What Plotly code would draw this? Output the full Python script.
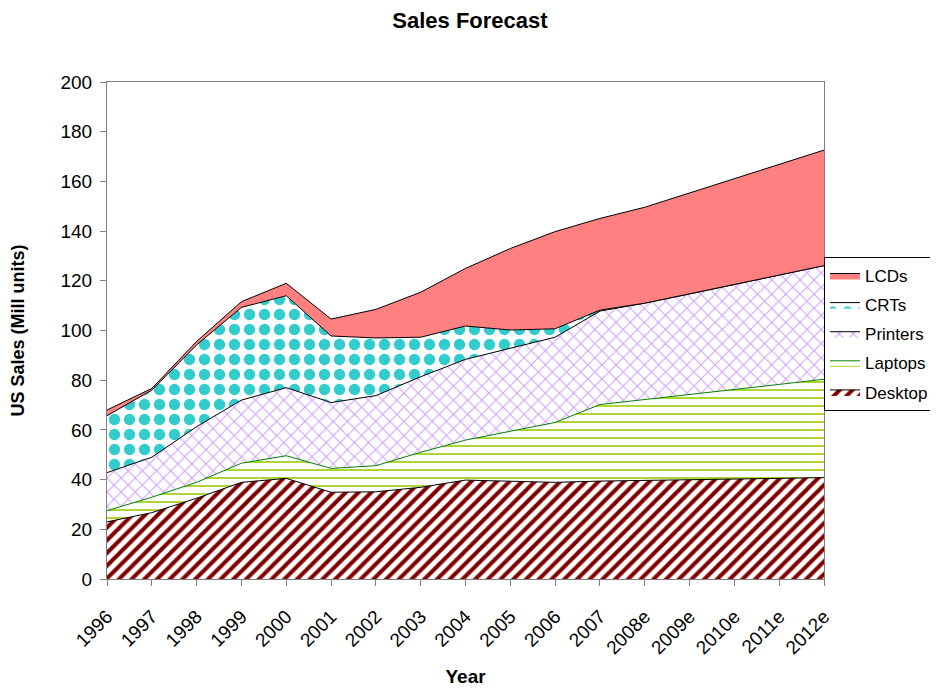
import plotly.graph_objects as go

# Kategorien (x-Achse)
years = ["1996", "1997", "1998", "1999", "2000", "2001", "2002", "2003", "2004",
         "2005", "2006", "2007", "2008e", "2009e", "2010e", "2011e", "2012e"]

# Werte je Serie (Mill. Einheiten, gestapelt von unten nach oben)
desktop = [23.0, 26.7, 32.5, 38.9, 40.5, 34.9, 35.1, 36.9, 39.8, 39.4, 38.9, 39.4, 39.6, 39.8, 40.2, 40.5, 40.8]
laptops = [4.5, 6.2, 6.4, 7.7, 9.1, 9.6, 10.5, 14.1, 16.1, 20.2, 24.1, 30.8, 32.7, 34.5, 36.1, 37.8, 39.6]
printers = [15.3, 16.1, 22.4, 25.4, 27.4, 26.5, 28.2, 30.4, 32.5, 33.2, 34.3, 37.6, 38.7, 40.4, 42.2, 44.0, 45.7]
crts = [22.9, 27.0, 32.9, 37.3, 37.0, 26.8, 23.2, 15.9, 13.4, 7.4, 3.4, 0.4, 0, 0, 0, 0, 0]
lcds = [2.3, 0.7, 1.4, 2.3, 5.0, 6.8, 11.5, 18.1, 23.2, 32.8, 39.1, 36.9, 38.6, 40.6, 42.6, 44.5, 46.5]

FONT = "Liberation Sans, Arial, sans-serif"

# (Name, Werte, Linienfarbe, Muster-Form, Musterfarbe, Mustergröße, Solidity)
series = [
    ("Desktop", desktop, "black", "/", "#800000", 9, 0.45),
    ("Laptops", laptops, "#008000", "-", "#99CC00", 8, 0.2),
    ("Printers", printers, "black", "x", "#CC99FF", 10, 0.18),
    ("CRTs", crts, "black", ".", "#33CCCC", 15, 0.45),
]

fig = go.Figure()
for i, (name, vals, lc, shape, fg, size, sol) in enumerate(series):
    fig.add_trace(go.Scatter(
        x=years, y=vals, name=name, legendgroup=name, legendrank=5 - i,
        mode="lines", stackgroup="one",
        line=dict(color=lc, width=1),
        fillcolor="white",
        fillpattern=dict(shape=shape, fgcolor=fg, bgcolor="white",
                         size=size, solidity=sol, fillmode="replace"),
    ))

fig.add_trace(go.Scatter(
    x=years, y=lcds, name="LCDs", legendgroup="LCDs", legendrank=1,
    mode="lines", stackgroup="one",
    line=dict(color="black", width=1), fillcolor="#FF8080",
))

axis_line = dict(showline=True, linecolor="#808080", linewidth=1, mirror=True,
                 ticks="outside", ticklen=6, tickcolor="#808080", showgrid=False,
                 zeroline=False, automargin=False)

fig.update_layout(
    width=938, height=691,
    margin=dict(l=99, r=121, t=74, b=120),
    paper_bgcolor="white", plot_bgcolor="white",
    font=dict(family=FONT, size=19, color="black"),
    title=dict(text="<b>Sales Forecast</b>", x=0.4925, xref="container", xanchor="center",
               y=0.982, yanchor="middle", font=dict(size=22), automargin=False),
    xaxis=dict(type="category", range=[0, 16], tickangle=-45, ticklabelstandoff=12,
               title=dict(text="<b>Year</b>", font=dict(size=19), standoff=12),
               **axis_line),
    yaxis=dict(range=[0, 200], dtick=20, ticklabelstandoff=4,
               title=dict(text="<b>US Sales (Mill units)</b>", font=dict(size=18), standoff=32),
               **axis_line),
    legend=dict(x=0.870, y=0.6397, xref="container", yref="container",
                xanchor="left", yanchor="top",
                traceorder="grouped", bordercolor="black", borderwidth=1,
                font=dict(size=17), tracegroupgap=4, itemwidth=30),
    showlegend=True,
)

fig.write_html("out.html")
